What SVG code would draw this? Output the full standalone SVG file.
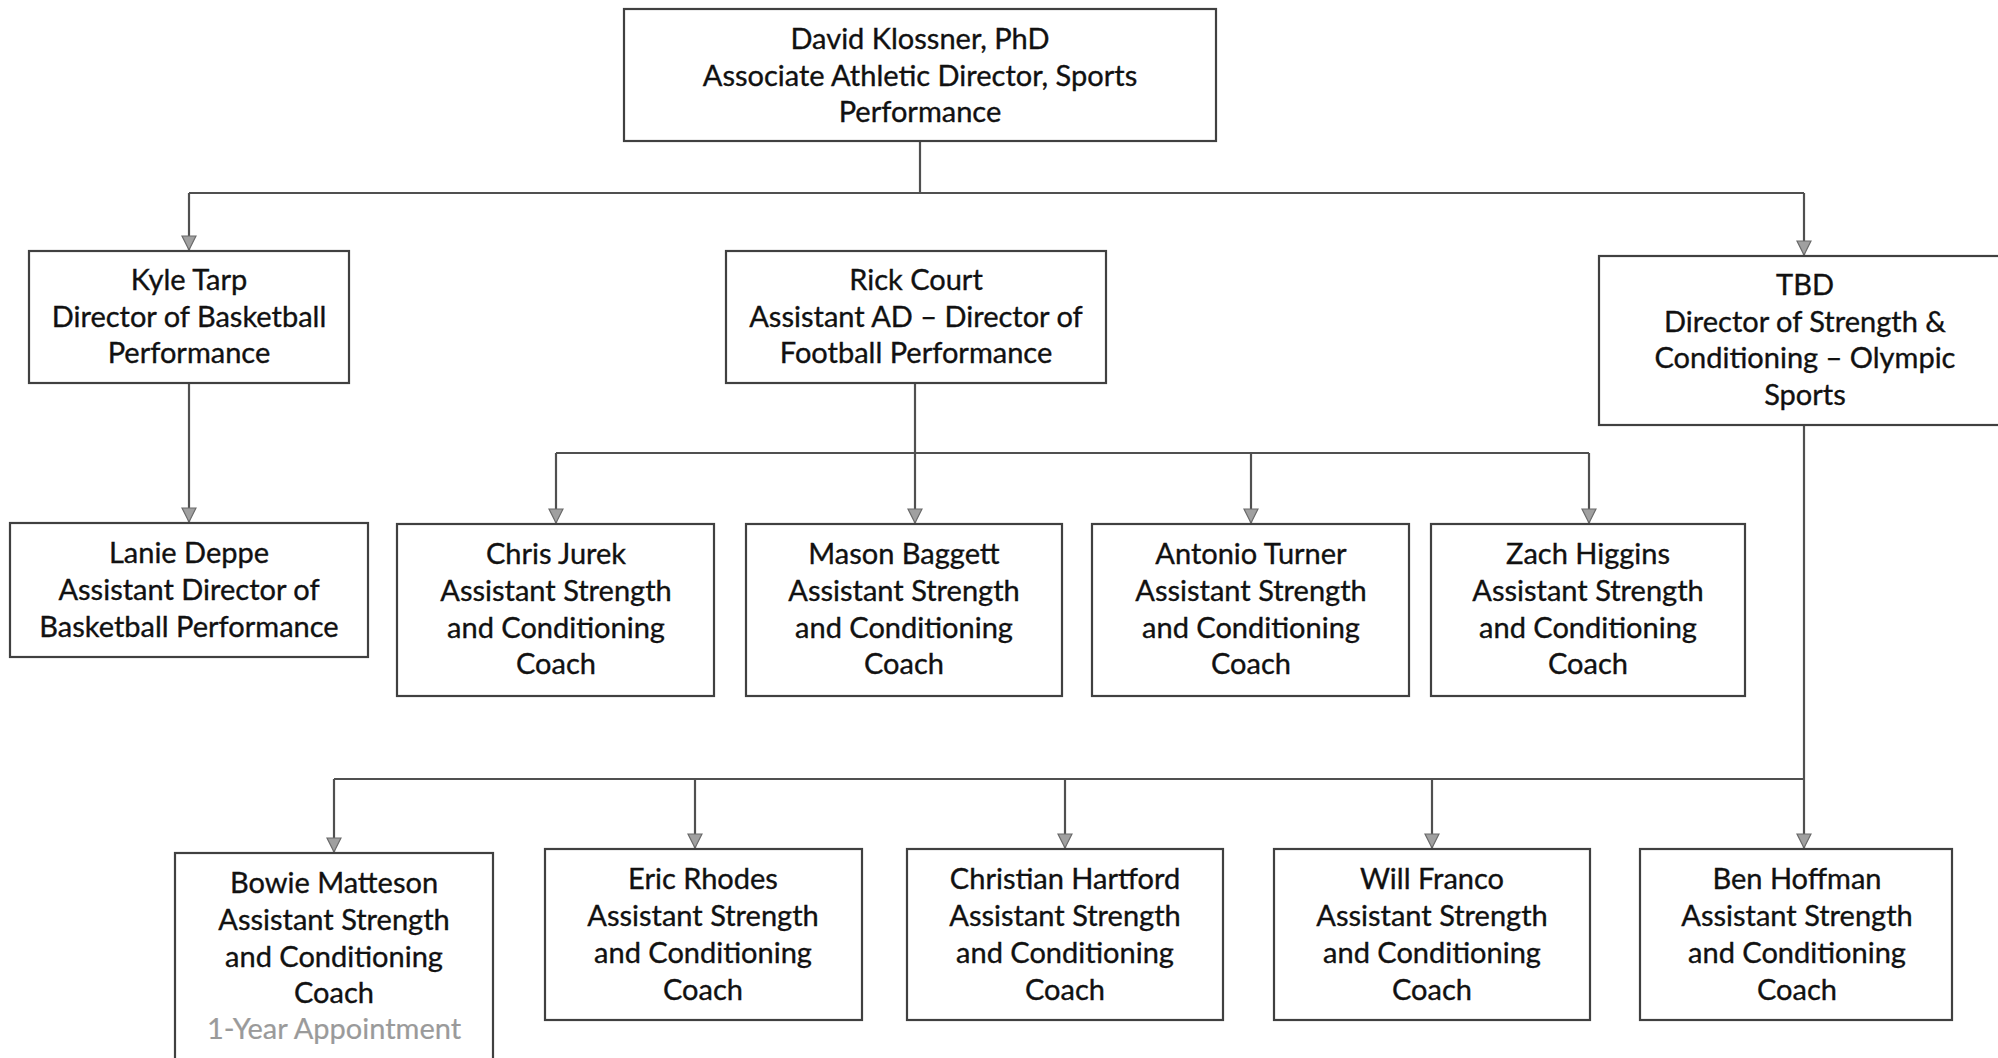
<svg xmlns="http://www.w3.org/2000/svg" width="1998" height="1058" viewBox="0 0 1998 1058">
<style>
  .box { fill: #ffffff; stroke: #404040; stroke-width: 2.2; }
  .t { font-family: Lato, "Liberation Sans", sans-serif; font-size: 29px; fill: #111111; stroke: #111111; stroke-width: 0.35; text-anchor: middle; }
  .note { fill: #9a9a9a; stroke: #9a9a9a; stroke-width: 0.2; }
  .ln { fill: none; stroke: #505050; stroke-width: 2.2; }
</style>
<defs>
  <marker id="arr" markerUnits="userSpaceOnUse" markerWidth="18" markerHeight="18" refX="15" refY="8" orient="auto">
    <path d="M1,1 L15,8 L1,15 z" fill="#a0a0a0" stroke="#6a6a6a" stroke-width="1.2"/>
  </marker>
</defs>
<rect width="1998" height="1058" fill="#ffffff"/>

<g id="connectors">
  <path class="ln" d="M920,141 V193"/>
  <path class="ln" d="M189,193 H1804"/>
  <path class="ln" d="M189,193 V250" marker-end="url(#arr)"/>
  <path class="ln" d="M1804,193 V255" marker-end="url(#arr)"/>
  <path class="ln" d="M189,383 V522" marker-end="url(#arr)"/>
  <path class="ln" d="M915,383 V523" marker-end="url(#arr)"/>
  <path class="ln" d="M556,453 H1589"/>
  <path class="ln" d="M556,453 V523" marker-end="url(#arr)"/>
  <path class="ln" d="M1251,453 V523" marker-end="url(#arr)"/>
  <path class="ln" d="M1589,453 V523" marker-end="url(#arr)"/>
  <path class="ln" d="M1804,425 V848" marker-end="url(#arr)"/>
  <path class="ln" d="M334,779 H1804"/>
  <path class="ln" d="M334,779 V852" marker-end="url(#arr)"/>
  <path class="ln" d="M695,779 V848" marker-end="url(#arr)"/>
  <path class="ln" d="M1065,779 V848" marker-end="url(#arr)"/>
  <path class="ln" d="M1432,779 V848" marker-end="url(#arr)"/>
</g>

<g id="node-klossner">
  <rect class="box" x="624" y="9" width="592" height="132"/>
  <text class="t" x="920" y="49">David Klossner, PhD</text>
  <text class="t" x="920" y="86">Associate Athletic Director, Sports</text>
  <text class="t" x="920" y="122">Performance</text>
</g>

<g id="node-tarp">
  <rect class="box" x="29" y="251" width="320" height="132"/>
  <text class="t" x="189" y="290">Kyle Tarp</text>
  <text class="t" x="189" y="327">Director of Basketball</text>
  <text class="t" x="189" y="363">Performance</text>
</g>

<g id="node-court">
  <rect class="box" x="726" y="251" width="380" height="132"/>
  <text class="t" x="916" y="290">Rick Court</text>
  <text class="t" x="916" y="327">Assistant AD – Director of</text>
  <text class="t" x="916" y="363">Football Performance</text>
</g>

<g id="node-tbd">
  <rect class="box" x="1599" y="256" width="412" height="169"/>
  <text class="t" x="1805" y="295">TBD</text>
  <text class="t" x="1805" y="332">Director of Strength &amp;</text>
  <text class="t" x="1805" y="368">Conditioning – Olympic</text>
  <text class="t" x="1805" y="405">Sports</text>
</g>

<g id="node-deppe">
  <rect class="box" x="10" y="523" width="358" height="134"/>
  <text class="t" x="189" y="563">Lanie Deppe</text>
  <text class="t" x="189" y="600">Assistant Director of</text>
  <text class="t" x="189" y="637">Basketball Performance</text>
</g>

<g id="node-jurek">
  <rect class="box" x="397" y="524" width="317" height="172"/>
  <text class="t" x="556" y="564">Chris Jurek</text>
  <text class="t" x="556" y="601">Assistant Strength</text>
  <text class="t" x="556" y="638">and Conditioning</text>
  <text class="t" x="556" y="674">Coach</text>
</g>

<g id="node-baggett">
  <rect class="box" x="746" y="524" width="316" height="172"/>
  <text class="t" x="904" y="564">Mason Baggett</text>
  <text class="t" x="904" y="601">Assistant Strength</text>
  <text class="t" x="904" y="638">and Conditioning</text>
  <text class="t" x="904" y="674">Coach</text>
</g>

<g id="node-turner">
  <rect class="box" x="1092" y="524" width="317" height="172"/>
  <text class="t" x="1251" y="564">Antonio Turner</text>
  <text class="t" x="1251" y="601">Assistant Strength</text>
  <text class="t" x="1251" y="638">and Conditioning</text>
  <text class="t" x="1251" y="674">Coach</text>
</g>

<g id="node-higgins">
  <rect class="box" x="1431" y="524" width="314" height="172"/>
  <text class="t" x="1588" y="564">Zach Higgins</text>
  <text class="t" x="1588" y="601">Assistant Strength</text>
  <text class="t" x="1588" y="638">and Conditioning</text>
  <text class="t" x="1588" y="674">Coach</text>
</g>

<g id="node-matteson">
  <rect class="box" x="175" y="853" width="318" height="215"/>
  <text class="t" x="334" y="893">Bowie Matteson</text>
  <text class="t" x="334" y="930">Assistant Strength</text>
  <text class="t" x="334" y="967">and Conditioning</text>
  <text class="t" x="334" y="1003">Coach</text>
  <text class="t note" x="334" y="1039">1-Year Appointment</text>
</g>

<g id="node-rhodes">
  <rect class="box" x="545" y="849" width="317" height="171"/>
  <text class="t" x="703" y="889">Eric Rhodes</text>
  <text class="t" x="703" y="926">Assistant Strength</text>
  <text class="t" x="703" y="963">and Conditioning</text>
  <text class="t" x="703" y="1000">Coach</text>
</g>

<g id="node-hartford">
  <rect class="box" x="907" y="849" width="316" height="171"/>
  <text class="t" x="1065" y="889">Christian Hartford</text>
  <text class="t" x="1065" y="926">Assistant Strength</text>
  <text class="t" x="1065" y="963">and Conditioning</text>
  <text class="t" x="1065" y="1000">Coach</text>
</g>

<g id="node-franco">
  <rect class="box" x="1274" y="849" width="316" height="171"/>
  <text class="t" x="1432" y="889">Will Franco</text>
  <text class="t" x="1432" y="926">Assistant Strength</text>
  <text class="t" x="1432" y="963">and Conditioning</text>
  <text class="t" x="1432" y="1000">Coach</text>
</g>

<g id="node-hoffman">
  <rect class="box" x="1640" y="849" width="312" height="171"/>
  <text class="t" x="1797" y="889">Ben Hoffman</text>
  <text class="t" x="1797" y="926">Assistant Strength</text>
  <text class="t" x="1797" y="963">and Conditioning</text>
  <text class="t" x="1797" y="1000">Coach</text>
</g>
</svg>
